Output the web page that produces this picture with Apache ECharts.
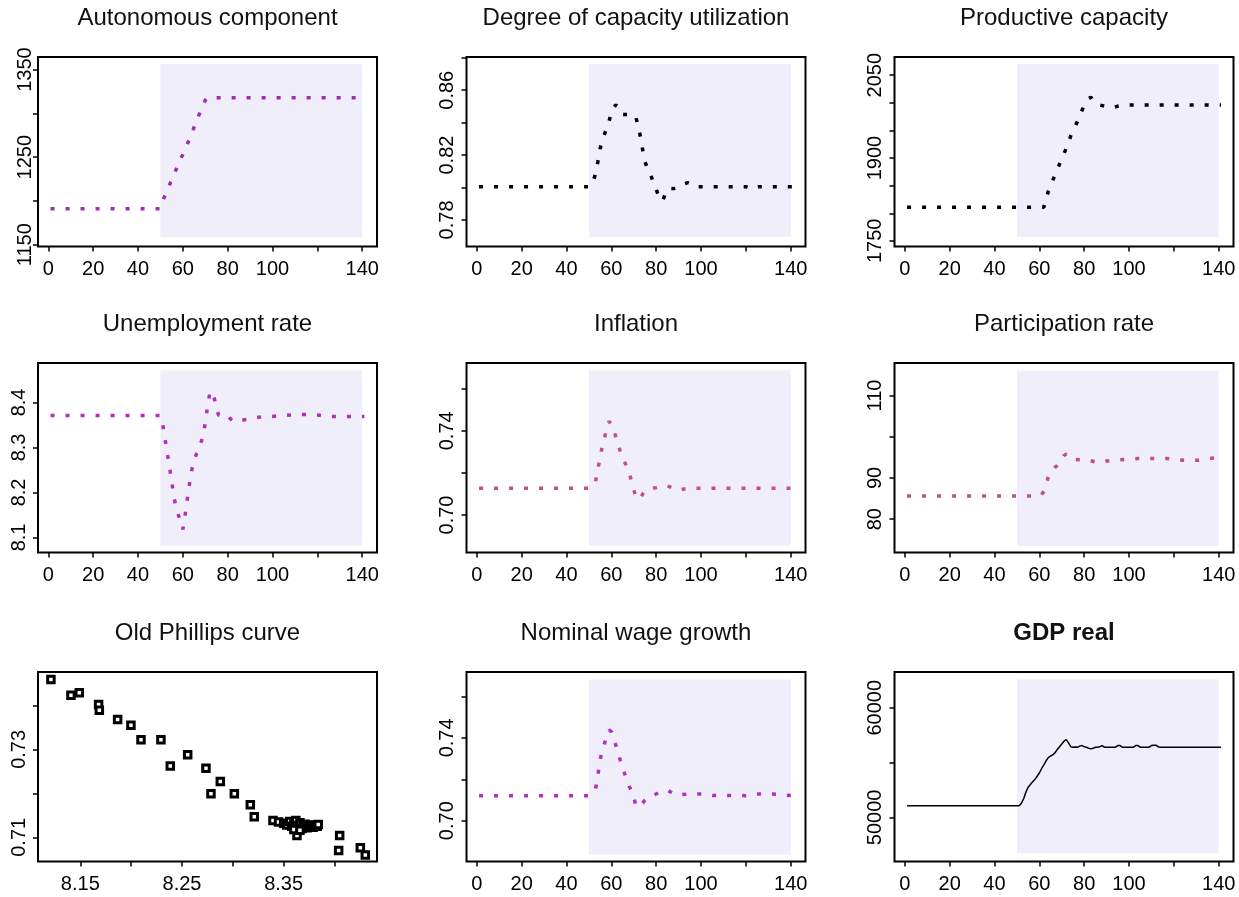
<!DOCTYPE html>
<html><head><meta charset="utf-8">
<script src="https://cdn.jsdelivr.net/npm/echarts@6/dist/echarts.min.js"></script>
<style>html,body{margin:0;padding:0;background:#fff}#c{width:1239px;height:897px}</style>
</head><body><div id="c"></div><script>
// ---------- data: [period, value] ----------
const autonomousComponent = [[1,1191],[50,1191],[51,1200],[52,1206],[53,1212],[54,1218],[55,1224],[56,1230],[57,1236],[58,1242],[59,1248],[60,1253],[61,1259],[62,1265],[63,1271],[64,1277],[65,1284],[66,1290],[67,1297],[68,1303],[69,1309],[70,1315],[71,1318],[141,1318]];
const capacityUtilization = [[1,0.8005],[50,0.8005],[51,0.801],[52,0.804],[53,0.809],[54,0.816],[55,0.824],[56,0.829],[57,0.833],[58,0.837],[59,0.841],[60,0.846],[61,0.849],[62,0.851],[63,0.849],[64,0.846],[65,0.845],[66,0.845],[67,0.845],[68,0.845],[69,0.845],[70,0.845],[71,0.843],[72,0.838],[73,0.831],[74,0.823],[75,0.816],[76,0.812],[77,0.810],[78,0.806],[79,0.802],[80,0.799],[81,0.795],[82,0.792],[83,0.792],[84,0.796],[85,0.799],[86,0.7995],[88,0.7993],[90,0.800],[92,0.802],[94,0.803],[95,0.8025],[97,0.8005],[100,0.8005],[120,0.8005],[123,0.799],[126,0.8005],[141,0.8005]];
const productiveCapacity = [[1,1811],[62,1811],[63,1825],[64,1840],[65,1850],[66,1860],[67,1869],[68,1879],[69,1889],[70,1898],[71,1908],[72,1918],[73,1929],[74,1940],[75,1950],[76,1958],[77,1966],[78,1976],[79,1986],[80,1995],[81,2002],[82,2008],[83,2010],[84,2004],[85,1999],[87,1996],[90,1993],[93,1991],[95,1994],[98,1996],[141,1996]];
const unemploymentRate = [[1,8.371],[50,8.371],[51,8.352],[52,8.320],[53,8.290],[54,8.258],[55,8.225],[56,8.192],[57,8.165],[58,8.150],[59,8.135],[60,8.118],[61,8.150],[62,8.185],[63,8.220],[64,8.250],[65,8.270],[66,8.285],[67,8.295],[68,8.310],[69,8.325],[70,8.355],[71,8.390],[72,8.420],[73,8.425],[74,8.410],[75,8.385],[76,8.372],[77,8.370],[78,8.372],[79,8.373],[80,8.370],[81,8.365],[82,8.360],[83,8.358],[84,8.357],[85,8.358],[86,8.360],[88,8.362],[90,8.364],[95,8.368],[100,8.369],[105,8.371],[110,8.373],[115,8.373],[120,8.372],[125,8.369],[130,8.369],[141,8.369]];
const inflation = [[1,0.7127],[50,0.7127],[51,0.713],[52,0.7145],[53,0.716],[54,0.722],[55,0.727],[56,0.733],[57,0.737],[58,0.741],[59,0.7445],[60,0.743],[61,0.741],[62,0.737],[63,0.734],[64,0.730],[65,0.7275],[66,0.725],[67,0.7225],[68,0.720],[69,0.716],[70,0.712],[71,0.7085],[72,0.7075],[73,0.708],[74,0.710],[75,0.7115],[76,0.712],[78,0.7127],[80,0.713],[83,0.714],[85,0.7138],[87,0.713],[89,0.7118],[91,0.712],[93,0.7125],[95,0.7127],[141,0.7127]];
const participationRate = [[1,85.6],[60,85.6],[61,85.9],[62,86.8],[63,88.5],[64,90.2],[65,91.2],[66,92.0],[67,92.6],[68,93.0],[69,93.6],[70,94.5],[71,95.4],[72,95.8],[73,95.4],[74,94.8],[75,94.5],[78,94.4],[82,94.3],[85,93.9],[87,93.7],[90,94.1],[93,94.3],[98,94.5],[104,94.7],[110,94.7],[117,94.7],[121,94.5],[124,94.3],[131,94.3],[137,94.8],[141,94.9]];
const nominalWageGrowth = [[1,0.7121],[50,0.7121],[51,0.7125],[52,0.714],[53,0.7155],[54,0.722],[55,0.7295],[56,0.734],[57,0.7375],[58,0.7405],[59,0.7438],[60,0.743],[61,0.740],[62,0.7365],[63,0.733],[64,0.729],[65,0.726],[66,0.7225],[67,0.7195],[68,0.7165],[69,0.7145],[70,0.7115],[71,0.7068],[72,0.7068],[73,0.7078],[74,0.7085],[75,0.710],[77,0.7118],[79,0.7124],[82,0.714],[85,0.7148],[87,0.7135],[89,0.7124],[92,0.7127],[95,0.7129],[101,0.7129],[105,0.7122],[120,0.7121],[125,0.7128],[128,0.7132],[131,0.7129],[134,0.7128],[137,0.7123],[141,0.7121]];
const gdpReal = [[1,51067],[51,51067],[52,51300],[53,51700],[54,52300],[55,52750],[56,53000],[57,53250],[58,53450],[59,53750],[60,54050],[61,54450],[62,54800],[63,55150],[64,55450],[65,55600],[66,55700],[67,55900],[68,56200],[69,56450],[70,56700],[71,56950],[72,57100],[73,56800],[74,56450],[75,56400],[76,56420],[77,56400],[78,56500],[79,56550],[80,56450],[81,56400],[82,56300],[83,56250],[84,56300],[85,56400],[86,56400],[87,56450],[88,56550],[89,56400],[94,56400],[95,56550],[96,56550],[97,56400],[102,56400],[103,56550],[104,56550],[105,56400],[109,56400],[110,56550],[111,56580],[112,56580],[113,56450],[114,56400],[141,56400]];
const phillipsUnemployment = [8.1211,8.1408,8.149,8.168,8.1687,8.1867,8.1998,8.2097,8.2293,8.2556,8.2385,8.2736,8.2877,8.2785,8.3015,8.3172,8.3211,8.3395,8.3631,8.4051,8.4041,8.4254,8.4303,8.345,8.350,8.353,8.356,8.358,8.360,8.362,8.363,8.365,8.366,8.368,8.369,8.370,8.371,8.372,8.373,8.375,8.377,8.379,8.381,8.383,8.384,8.360,8.366];
const phillipsInflation = [0.7459,0.7423,0.7429,0.7402,0.7389,0.7368,0.7355,0.7322,0.7322,0.7288,0.7262,0.7257,0.7227,0.7199,0.7199,0.7174,0.7147,0.7138,0.7104,0.7104,0.7070,0.7076,0.7060,0.7135,0.7132,0.7128,0.7136,0.7125,0.7130,0.7138,0.7122,0.7127,0.7133,0.7120,0.7127,0.7124,0.7130,0.7127,0.7122,0.7126,0.7128,0.7123,0.7127,0.7125,0.7129,0.7118,0.7116];
const periodTicks = [0,20,40,60,80,100,120,140];
const periodLabels = [0,20,40,60,80,100,140];
const shockWindow = [50,140];

// ---------- panel layout ----------
const colLeft = [38, 466.5, 894.5], rowTop = [57, 363, 672], W = 339, H = 189.5;
const FONT = 'Liberation Sans, Arial, sans-serif';
const panels = [
  {title:'Autonomous component', data:autonomousComponent, color:'#9b2fae', y:[1148,1364.4], shade:[1158.3,1356.4], yTicks:[1150,1200,1250,1300,1350], yLabels:[1150,1250,1350], yMargin:2.5},
  {title:'Degree of capacity utilization', data:capacityUtilization, color:'#000', y:[0.7636,0.8805], shade:[0.7695,0.8764], yTicks:[0.78,0.80,0.82,0.84,0.86,0.88], yLabels:[0.78,0.82,0.86], fmt:2},
  {title:'Productive capacity', data:productiveCapacity, color:'#000', y:[1739.8,2083], shade:[1757,2071], yTicks:[1750,1800,1850,1900,1950,2000,2050], yLabels:[1750,1900,2050]},
  {title:'Unemployment rate', data:unemploymentRate, color:'#b030b8', y:[8.0666,8.4876], shade:[8.0815,8.4713], yTicks:[8.1,8.2,8.3,8.4], yLabels:[8.1,8.2,8.3,8.4], fmt:1},
  {title:'Inflation', data:inflation, color:'#c0508c', y:[0.6822,0.7722], shade:[0.6854,0.7687], yTicks:[0.70,0.72,0.74,0.76], yLabels:[0.70,0.74], fmt:2},
  {title:'Participation rate', data:participationRate, color:'#c04e8e', y:[71.9,117.9], shade:[73.5,116.1], yTicks:[80,90,100,110], yLabels:[80,90,110]},
  {title:'Old Phillips curve', scatter:true, x:[8.1084,8.4418], xTicks:[8.15,8.20,8.25,8.30,8.35,8.40], xLabels:[8.15,8.25,8.35], y:[0.7045,0.7476], yTicks:[0.71,0.72,0.73,0.74], yLabels:[0.71,0.73], fmt:2},
  {title:'Nominal wage growth', data:nominalWageGrowth, color:'#b030c0', y:[0.6803,0.7718], shade:[0.6837,0.7682], yTicks:[0.70,0.72,0.74,0.76], yLabels:[0.70,0.74], fmt:2},
  {title:'GDP real', bold:true, data:gdpReal, color:'#000', solid:true, y:[45976,63262], shade:[46738,62591], yTicks:[50000,55000,60000], yLabels:[50000,60000]}
];

const option = {animation:false, backgroundColor:'#fff', textStyle:{fontFamily:FONT},
  title:[], grid:[], xAxis:[], yAxis:[], series:[]};

panels.forEach((p, i) => {
  const c = i % 3, r = Math.floor(i / 3);
  const left = colLeft[c], top = rowTop[r];
  option.title.push({text:p.title, left:left + W/2, top:top - 51, textAlign:'center', padding:0,
    textStyle:{fontSize:24, fontWeight:p.bold ? 'bold' : 'normal', color:'#111', fontFamily:FONT}});
  option.grid.push({left, top, width:W, height:H, show:true, borderColor:'#000', borderWidth:2,
    backgroundColor:'transparent', outerBoundsMode:'none', containLabel:false});
  const xr = p.x || [-4.6, 146.6];
  option.xAxis.push({type:'value', gridIndex:i, min:xr[0], max:xr[1], position:'bottom',
    axisLine:{show:false, onZero:false}, splitLine:{show:false},
    axisTick:{show:true, inside:false, length:5, lineStyle:{color:'#000', width:1.5}, customValues:p.xTicks || periodTicks},
    axisLabel:{customValues:p.xLabels || periodLabels, fontSize:20, color:'#000', margin:13, fontFamily:FONT,
      formatter: v => p.scatter ? v.toFixed(2) : String(v)}});
  option.yAxis.push({type:'value', gridIndex:i, min:p.y[0], max:p.y[1], position:'left',
    axisLine:{show:false, onZero:false}, splitLine:{show:false},
    axisTick:{show:true, inside:false, length:5, lineStyle:{color:'#000', width:1.5}, customValues:p.yTicks},
    axisLabel:{customValues:p.yLabels, rotate:90, fontSize:20, color:'#000', margin:p.yMargin ?? 9, fontFamily:FONT,
      formatter: v => p.fmt ? v.toFixed(p.fmt) : String(v)}});
  if (p.shade) {
    option.series.push({type:'custom', xAxisIndex:i, yAxisIndex:i, z:1, silent:true,
      data:[[shockWindow[0], p.shade[0], shockWindow[1], p.shade[1]]],
      renderItem:(params, api) => {
        const a = api.coord([api.value(0), api.value(3)]);
        const b = api.coord([api.value(2), api.value(1)]);
        return {type:'rect', shape:{x:a[0], y:a[1], width:b[0]-a[0], height:b[1]-a[1]}, style:{fill:'#efeefa'}};
      }});
  }
  if (p.scatter) {
    option.series.push({type:'scatter', xAxisIndex:i, yAxisIndex:i, z:3,
      data: phillipsUnemployment.map((u, k) => [u, phillipsInflation[k]]),
      symbol:'rect', symbolSize:6.5, itemStyle:{color:'#fff', borderColor:'#000', borderWidth:3, opacity:1}});
  } else {
    option.series.push({type:'line', xAxisIndex:i, yAxisIndex:i, z:3, data:p.data,
      symbol:'none', showSymbol:false,
      lineStyle: p.solid ? {color:p.color, width:1.5} : {color:p.color, width:3.5, type:[4,11], cap:'butt'}});
  }
});

const chart = echarts.init(document.getElementById('c'), null, {renderer:'canvas'});
chart.setOption(option);
</script></body></html>
